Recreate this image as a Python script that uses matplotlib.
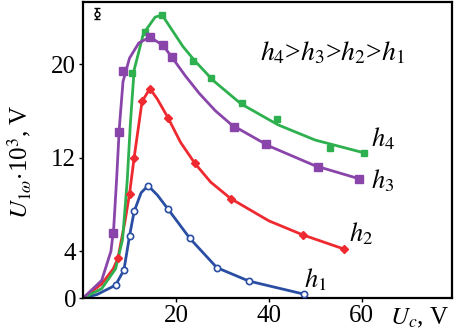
import matplotlib

matplotlib.use("Agg")
import matplotlib.pyplot as plt

plt.rcParams["font.family"] = ["Liberation Serif", "DejaVu Serif"]
plt.rcParams["mathtext.fontset"] = "stix"

h4_line_x = [0, 4, 7, 8.5, 9.5, 10.2, 11, 13, 15.5, 17, 19, 21.5, 24, 28, 34, 42, 50, 60.6]
h4_line_y = [0, 0.8, 2.5, 5, 10, 15, 19.5, 22.6, 24.0, 24.2, 23.0, 21.5, 20.3, 18.6, 16.6, 14.8, 13.5, 12.4]
h4_x = [10.5, 13.3, 17, 23.7, 27.5, 34.2, 41.7, 53.1, 60.6]
h4_y = [19.2, 22.7, 24.2, 20.3, 18.8, 16.7, 15.3, 12.8, 12.4]

h3_line_x = [0, 4, 6, 6.6, 7.2, 7.8, 8.6, 10, 12, 14.4, 17.2, 19.1, 22, 25, 28.5, 32, 40, 50, 59.4]
h3_line_y = [0, 1.5, 4, 6, 10, 14.5, 18.5, 20.5, 21.8, 22.3, 21.6, 20.6, 19.0, 17.5, 16.0, 14.8, 13.0, 11.3, 10.2]
h3_x = [6.4, 7.7, 8.6, 14.4, 17.2, 19.1, 32.5, 39.5, 50.5, 59.4]
h3_y = [5.6, 14.2, 19.4, 22.3, 21.6, 20.6, 14.6, 13.2, 11.2, 10.2]

h2_line_x = [0, 4, 6.5, 7.5, 9, 10, 11, 12.7, 14.4, 16, 18.3, 21, 24.1, 27.5, 31.8, 40, 47.3, 56.1]
h2_line_y = [0, 1.2, 2.5, 3.4, 6.5, 8.9, 12, 16.8, 17.9, 17, 15.4, 13.3, 11.5, 9.9, 8.5, 6.6, 5.4, 4.2]
h2_x = [7.5, 10, 11, 12.7, 14.4, 18.3, 24.1, 31.8, 47.3, 56.1]
h2_y = [3.4, 8.9, 12, 16.8, 17.9, 15.4, 11.5, 8.5, 5.4, 4.2]

h1_line_x = [0, 3, 7, 8.8, 10, 11, 12.5, 14, 16, 18.3, 23, 28.8, 35.7, 47.5]
h1_line_y = [0, 0.3, 1.1, 2.4, 5.3, 7.4, 9.0, 9.6, 8.8, 7.6, 5.1, 2.6, 1.45, 0.34]
h1_x = [7, 8.8, 10, 11, 14, 18.3, 23, 28.8, 35.7, 47.5]
h1_y = [1.1, 2.4, 5.3, 7.4, 9.6, 7.6, 5.1, 2.6, 1.45, 0.34]

x_ticks = [20, 40, 60]
y_ticks = [0, 4, 12, 20]

GREEN = "#2eb04f"
PURPLE = "#8a45aa"
RED = "#ee2a30"
BLUE = "#2a4ea3"

fig = plt.figure(figsize=(4.54, 3.33), dpi=100)
ax = fig.add_axes([0.183, 0.105, 0.812, 0.889])

ax.plot(h1_line_x, h1_line_y, color=BLUE, lw=2.0, zorder=2)
ax.plot(h1_x, h1_y, "o", ms=4.5, mfc="white", mec=BLUE, mew=1.2, zorder=3)
ax.plot(h2_line_x, h2_line_y, color=RED, lw=2.0, zorder=2)
ax.plot(h2_x, h2_y, "D", ms=4.5, color=RED, zorder=3)
ax.plot(h4_line_x, h4_line_y, color=GREEN, lw=2.0, zorder=2)
ax.plot(h4_x, h4_y, "s", ms=4.0, color=GREEN, zorder=3)
ax.plot(h3_line_x, h3_line_y, color=PURPLE, lw=2.0, zorder=2)
ax.plot(h3_x, h3_y, "s", ms=6.0, color=PURPLE, zorder=3)

# error bar sample in the corner
ax.errorbar([3], [24.3], yerr=[[0.45], [0.45]], fmt="o", ms=3.5, mfc="white",
            mec="black", ecolor="black", elinewidth=1.2, capsize=2.5, mew=1)

ax.text(53.7, 20.9, "$h_4$>$h_3$>$h_2$>$h_1$", fontsize=20, ha="center", va="center")
ax.text(64.5, 13.6, "$h_4$", fontsize=19, ha="center", va="center")
ax.text(64.5, 10.0, "$h_3$", fontsize=19, ha="center", va="center")
ax.text(59.8, 5.5, "$h_2$", fontsize=19, ha="center", va="center")
ax.text(50.0, 1.6, "$h_1$", fontsize=19, ha="center", va="center")

ax.set_xlim(0, 79.4)
ax.set_ylim(0, 25.3)
ax.set_xticks(x_ticks)
ax.set_yticks(y_ticks)
ax.tick_params(direction="out", length=3, width=1, labelsize=18, pad=2)
for s in ax.spines.values():
    s.set_linewidth(1.6)

ax.set_ylabel(r"$U_{1\omega}$$\cdot$10$^3$, V", fontsize=18)
ax.yaxis.set_label_coords(-0.135, 0.46)
fig.text(0.925, 0.045, "$U_c$, V", fontsize=18, ha="center", va="center")

fig.savefig("out.png", dpi=100)
